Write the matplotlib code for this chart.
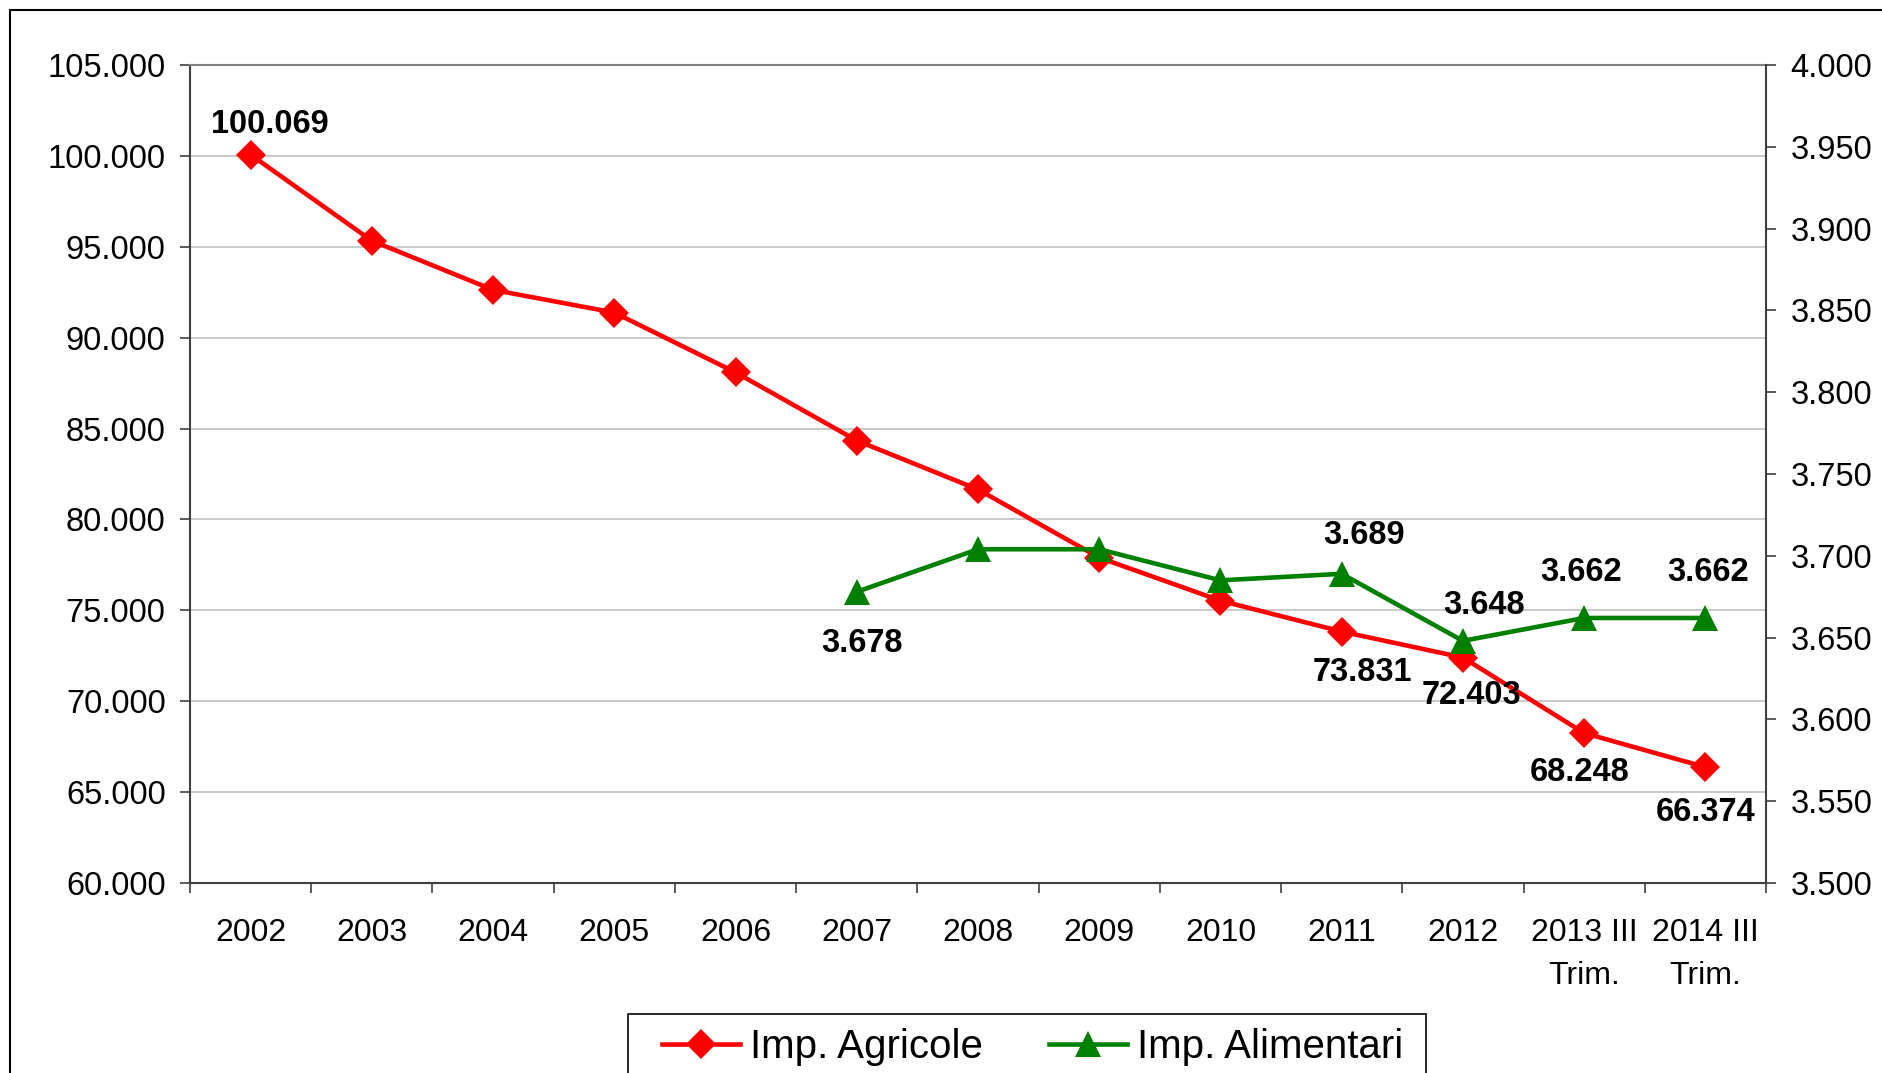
import matplotlib
matplotlib.use("Agg")
import matplotlib.pyplot as plt
from matplotlib.ticker import FuncFormatter, MultipleLocator, FixedLocator
from matplotlib.patches import Rectangle
from matplotlib.lines import Line2D

categories = ["2002", "2003", "2004", "2005", "2006", "2007", "2008", "2009",
              "2010", "2011", "2012", "2013 III\nTrim.", "2014 III\nTrim."]
agricole = [100069, 95330, 92630, 91380, 88090, 84340, 81650, 77900,
            75530, 73831, 72403, 68248, 66374]
alim_start = 5
alimentari = [3678, 3704, 3704, 3685, 3689, 3648, 3662, 3662]

agricole_labels = {0: "100.069", 9: "73.831", 10: "72.403", 11: "68.248", 12: "66.374"}
alimentari_labels = {0: "3.678", 4: "3.689", 5: "3.648", 6: "3.662", 7: "3.662"}

# label offsets (points) - style
agr_off = {0: (14, 21.5), 9: (15, -29.5), 10: (6, -27.5), 11: (-3, -28.5), 12: (0, -32.5)}
ali_off = {0: (4, -37.5), 4: (16, 27.5), 5: (15, 25.5), 6: (-2, 32.5), 7: (2, 32.5)}

plt.rcParams['font.family'] = ["Liberation Sans", 'DejaVu Sans']

W, H = 1883, 1073
fig = plt.figure(figsize=(W / 100, H / 100), dpi=100)
L, R, T, B = 190, 1766, 65, 883
ax = fig.add_axes([L / W, 1 - B / H, (R - L) / W, (B - T) / H])
ax2 = ax.twinx()

x = list(range(len(categories)))
xa = list(range(alim_start, alim_start + len(alimentari)))

red = "#ff0000"
green = "#008000"
ax.plot(x, agricole, color=red, lw=3.3, marker="D", ms=15, mew=0, zorder=3)
ax2.plot(xa, alimentari, color=green, lw=3.3, marker="^", ms=19, mew=0, zorder=3)

ax.set_xlim(-0.5, len(categories) - 0.5)
ax.set_ylim(60000, 105000)
ax2.set_ylim(3500, 4000)
ax.yaxis.set_major_locator(MultipleLocator(5000))
ax2.yaxis.set_major_locator(MultipleLocator(50))
fmt = FuncFormatter(lambda v, p: f"{v:,.0f}".replace(",", "."))
ax.yaxis.set_major_formatter(fmt)
ax2.yaxis.set_major_formatter(fmt)

ax.set_xticks(x)
ax.set_xticklabels(categories, fontsize=23, linespacing=1.58)
ax.xaxis.set_minor_locator(FixedLocator([i - 0.5 for i in range(len(categories) + 1)]))
ax.tick_params(axis="x", which="major", length=0, pad=25)
ax.tick_params(axis="x", which="minor", length=7.5, width=1.2, color="#404040", direction="out")
ax.tick_params(axis="y", which="major", length=7.5, width=1.2, color="#404040", labelsize=23.5, pad=10)
ax2.tick_params(axis="y", which="major", length=7.5, width=1.2, color="#404040", labelsize=23.5, pad=10)

ax.grid(axis="y", color="#c0c0c0", lw=1.2)
ax.set_axisbelow(True)
for sp in ["left", "bottom"]:
    ax.spines[sp].set_color("#404040")
    ax.spines[sp].set_linewidth(1.5)
ax.spines["top"].set_color("#808080")
ax.spines["top"].set_linewidth(1.5)
ax.spines["right"].set_visible(False)
for sp in ["left", "bottom", "top"]:
    ax2.spines[sp].set_visible(False)
ax2.spines["right"].set_color("#404040")
ax2.spines["right"].set_linewidth(1.5)

for i, t in agricole_labels.items():
    ax.annotate(t, (x[i], agricole[i]), xytext=agr_off[i], textcoords="offset points",
                ha="center", va="center", fontsize=23.5, fontweight="bold", zorder=5,
                annotation_clip=False)
for i, t in alimentari_labels.items():
    ax2.annotate(t, (xa[i], alimentari[i]), xytext=ali_off[i], textcoords="offset points",
                 ha="center", va="center", fontsize=23.5, fontweight="bold", zorder=5,
                 annotation_clip=False)

handles = [Line2D([], [], color=red, lw=3.3, marker="D", ms=15, mew=0),
           Line2D([], [], color=green, lw=3.3, marker="^", ms=19, mew=0)]
leg = fig.legend(handles, ["Imp. Agricole", "Imp. Alimentari"], loc="center left",
                 bbox_to_anchor=(662 / W, 1 - 1047 / H), ncol=2, frameon=False,
                 prop={"size": 29},
                 handlelength=1.94, handletextpad=0.25, columnspacing=1.64,
                 borderpad=0, borderaxespad=0)

# legend frame (extends below the image edge)
fig.add_artist(Rectangle((628 / W, -0.1), (1426 - 628) / W, 0.1 + 1 - 1014 / H,
                         transform=fig.transFigure, fill=False, edgecolor="black",
                         lw=1.2, clip_on=False))

# outer chart border
fig.add_artist(Rectangle((10 / W, -0.2), 1.2, 1.2 - 10 / H, transform=fig.transFigure,
                         fill=False, edgecolor="black", lw=1.5, clip_on=False))

fig.savefig("out.png", dpi=100)
